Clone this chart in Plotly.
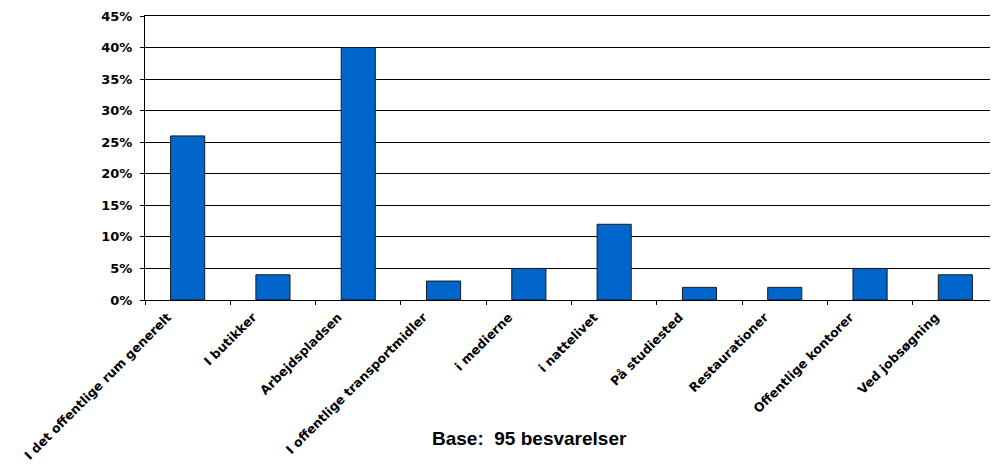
import plotly.graph_objects as go

categories = [
    "I det offentlige rum generelt",
    "I butikker",
    "Arbejdspladsen",
    "I offentlige transportmidler",
    "i medierne",
    "i nattelivet",
    "På studiested",
    "Restaurationer",
    "Offentlige kontorer",
    "Ved jobsøgning",
]
values = [0.26, 0.04, 0.40, 0.03, 0.05, 0.12, 0.02, 0.02, 0.05, 0.04]
y_ticks = [0, 0.05, 0.10, 0.15, 0.20, 0.25, 0.30, 0.35, 0.40, 0.45]
title_text = "Base:  95 besvarelser"

FONT = "DejaVu Sans, Verdana, sans-serif"
TITLE_FONT = "Liberation Sans, Arial, sans-serif"

fig = go.Figure(
    go.Bar(
        x=categories,
        y=values,
        width=0.4,
        marker=dict(color="#0066CC", line=dict(color="#1a1a1a", width=1)),
    )
)

# page body has an 8px default margin, so the figure is 990x460
fig.update_layout(
    width=990,
    height=460,
    margin=dict(l=137, r=0, t=8, b=168),
    paper_bgcolor="white",
    plot_bgcolor="white",
    showlegend=False,
    font=dict(family=FONT, color="black"),
    annotations=[
        dict(
            text=title_text,
            xref="paper",
            yref="paper",
            x=0.451,
            y=-0.486,
            xanchor="center",
            yanchor="middle",
            showarrow=False,
            font=dict(family=TITLE_FONT, size=19, color="black", weight="bold"),
        )
    ],
)

fig.update_xaxes(
    type="category",
    automargin=False,
    tickangle=-45,
    tickson="boundaries",
    ticks="outside",
    ticklen=4,
    tickcolor="black",
    ticklabelshift=-20,
    ticklabelstandoff=4,
    showline=True,
    linecolor="black",
    linewidth=1,
    mirror=True,
    showgrid=False,
    tickfont=dict(family=FONT, size=12.5, color="black", weight="bold"),
)

fig.update_yaxes(
    automargin=False,
    range=[0, 0.45],
    tickvals=y_ticks,
    tickformat=".0%",
    ticks="outside",
    ticklen=4,
    tickcolor="black",
    ticklabelstandoff=5,
    showline=True,
    linecolor="black",
    linewidth=1,
    showgrid=True,
    gridcolor="black",
    gridwidth=1,
    zeroline=False,
    tickfont=dict(family=FONT, size=13, color="black", weight="bold"),
)

fig.write_html("out.html")
